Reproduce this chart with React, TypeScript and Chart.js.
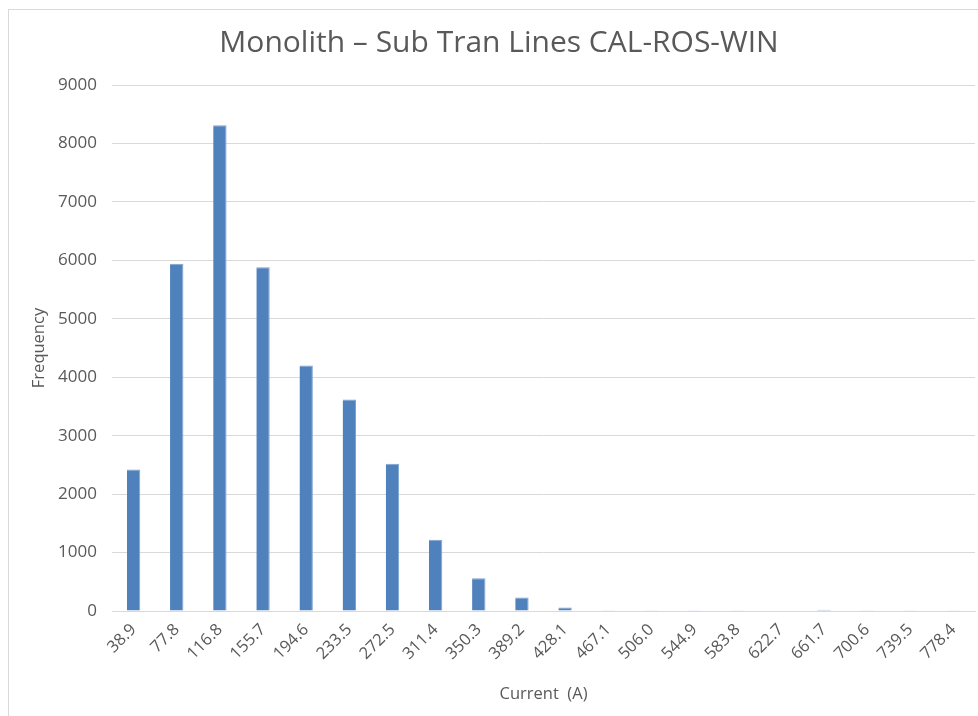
import React, { useEffect, useRef } from "react";
import { Chart, registerables } from "chart.js";

Chart.register(...registerables);

const categories = [
  "38.9", "77.8", "116.8", "155.7", "194.6", "233.5", "272.5", "311.4", "350.3", "389.2",
  "428.1", "467.1", "506.0", "544.9", "583.8", "622.7", "661.7", "700.6", "739.5", "778.4",
];
const frequency = [2420, 5940, 8310, 5880, 4200, 3620, 2520, 1220, 560, 230, 60, 5, 5, 5, 3, 8, 20, 5, 3, 3];
const yTicks = [0, 1000, 2000, 3000, 4000, 5000, 6000, 7000, 8000, 9000];

const FONT = "'Open Sans', 'Liberation Sans', sans-serif";
const GRAY = "#595959";

export default function App() {
  const ref = useRef<HTMLCanvasElement | null>(null);
  useEffect(() => {
    if (!ref.current) return;
    const chart = new Chart(ref.current, {
      type: "bar",
      data: {
        labels: categories,
        datasets: [
          {
            label: "Frequency",
            data: frequency,
            backgroundColor: "#4f81bd",
            borderColor: "#7ea2cf",
            borderWidth: { top: 1, right: 1, left: 0, bottom: 0 },
            barPercentage: 0.31,
            categoryPercentage: 1,
          },
        ],
      },
      options: {
        responsive: false,
        animation: false,
        layout: { padding: { left: 14, right: 14, top: 0, bottom: 0 } },
        plugins: {
          legend: { display: false },
          tooltip: { enabled: false },
          title: {
            display: true,
            text: "Monolith – Sub Tran Lines CAL-ROS-WIN",
            color: GRAY,
            font: { family: FONT, size: 30, weight: "normal" },
            padding: { top: 15, bottom: 24 },
          },
        },
        scales: {
          x: {
            grid: { display: false, drawTicks: false },
            border: { display: true, color: "#d9d9d9", width: 1 },
            ticks: {
              color: GRAY,
              font: { family: FONT, size: 16.5 },
              minRotation: 45,
              maxRotation: 45,
              autoSkip: false,
              padding: 9,
            },
            title: {
              display: true,
              text: "Current  (A)",
              color: GRAY,
              font: { family: FONT, size: 16.5 },
              padding: { top: 4, bottom: 12 },
            },
            afterFit: (s: any) => {
              s.height = 105;
            },
          },
          y: {
            min: 0,
            max: 9000,
            afterBuildTicks: (s: any) => {
              s.ticks = yTicks.map((v) => ({ value: v }));
            },
            grid: { color: "#d9d9d9", drawTicks: false },
            border: { display: false },
            ticks: {
              color: GRAY,
              font: { family: FONT, size: 17 },
              padding: 15,
              callback: (v: any) => String(v),
            },
            title: {
              display: true,
              text: "Frequency",
              color: GRAY,
              font: { family: FONT, size: 16.5 },
              padding: { top: 6, bottom: 0 },
            },
            afterFit: (s: any) => {
              s.width = 89;
            },
          },
        },
      },
    });
    return () => chart.destroy();
  }, []);

  return (
    <div
      style={{
        position: "absolute",
        left: 8,
        top: 9,
        width: 990,
        height: 720,
        borderLeft: "1px solid #d9d9d9",
        borderTop: "1px solid #d9d9d9",
        background: "#fff",
      }}
    >
      <canvas ref={ref} width={980} height={706} style={{ display: "block" }} />
    </div>
  );
}
